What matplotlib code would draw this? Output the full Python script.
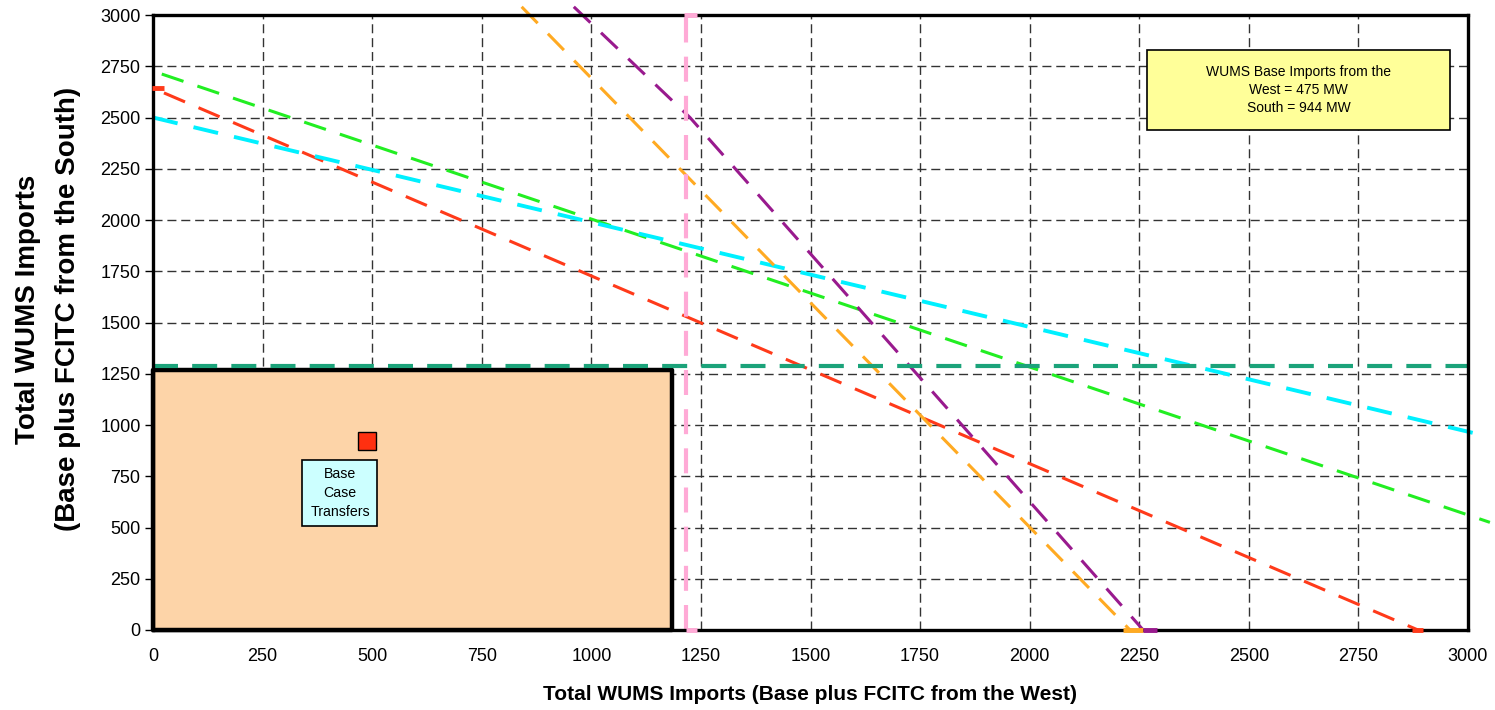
import matplotlib
matplotlib.use("Agg")
import matplotlib.pyplot as plt
from matplotlib.patches import Rectangle

plt.rcParams['font.family'] = ['Liberation Sans', 'DejaVu Sans']

# ---- data ----
ticks = [0, 250, 500, 750, 1000, 1250, 1500, 1750, 2000, 2250, 2500, 2750, 3000]
tick_labels = [str(t) for t in ticks]

red_x = [25, 2886]
red_y = [2620, 0]
green_x = [20, 3050]
green_y = [2712, 525]
cyan_x = [0, 3030]
cyan_y = [2500, 952]
orange_x = [841, 2229]
orange_y = [3040, 0]
purple_x = [960, 1225, 2259]
purple_y = [3040, 2500, 0]

west_limit = 1215          # pink vertical
south_limit = 1290         # teal horizontal
region_w = 1185            # base-case feasible region
region_h = 1270
base_x = [488]
base_y = [922]

# end markers (x0, x1, y)
red_marks = [(-3, 25, 2645), (2872, 2898, 0)]
orange_marks = [(2213, 2259, 0)]
purple_marks = [(2259, 2291, 0)]
pink_marks = [(1212, 1240, 3000), (1216, 1242, 0)]

note_text = "WUMS Base Imports from the\nWest = 475 MW\nSouth = 944 MW"
base_text = "Base\nCase\nTransfers"

# ---- figure ----
fig = plt.figure(figsize=(14.95, 7.1), dpi=100)
ax = fig.add_axes([153/1495, 1-630/710, (1468-153)/1495, 615/710])
ax.set_xlim(0, 3000)
ax.set_ylim(0, 3000)
ax.set_xticks(ticks)
ax.set_xticklabels(tick_labels)
ax.set_yticks(ticks)
ax.set_yticklabels(tick_labels)
ax.tick_params(axis='x', length=0, pad=13, labelsize=13)
ax.tick_params(axis='y', length=6, width=1, pad=3, labelsize=13, direction='out')

for t in ticks[1:-1]:
    ax.axvline(t, color='#333333', lw=1.0, dashes=(6.5, 3.5), zorder=1)
    ax.axhline(t, color='#333333', lw=1.0, dashes=(6.5, 3.5), zorder=1)

for s in ax.spines.values():
    s.set_linewidth(2.4)
    s.set_zorder(6)

# feasible region
ax.add_patch(Rectangle((0, 0), region_w, region_h, facecolor='#FDD4A8',
                       edgecolor='black', lw=3.2, zorder=3, clip_on=False,
                       joinstyle='round'))

dash = (7.5, 4.8)
lw = 2.2
ax.plot(red_x, red_y, color='#FF3A1A', lw=lw, dashes=dash, zorder=4, clip_on=False)
ax.plot(green_x, green_y, color='#22EE22', lw=lw, dashes=dash, zorder=4, clip_on=False)
ax.plot(cyan_x, cyan_y, color='#00F0FF', lw=lw + 0.6, dashes=(6.5, 4.2), zorder=4, clip_on=False)
ax.plot(orange_x, orange_y, color='#FFAA22', lw=lw, dashes=dash, zorder=4, clip_on=False)
ax.plot(purple_x, purple_y, color='#991A8E', lw=lw, dashes=dash, zorder=4, clip_on=False)

ax.plot([0, 3000], [south_limit, south_limit], color='#1BA37A', lw=3.0,
        dashes=(6, 3.4), zorder=4, clip_on=False)
ax.plot([west_limit, west_limit], [0, 3000], color='#FFAAD6', lw=3.0,
        dashes=(6, 3.4), zorder=4, clip_on=False)

for x0, x1, y in red_marks:
    ax.plot([x0, x1], [y, y], color='#FF3A1A', lw=3.5, zorder=7, clip_on=False, solid_capstyle='butt')
for x0, x1, y in orange_marks:
    ax.plot([x0, x1], [y, y], color='#FFAA22', lw=3.5, zorder=7, clip_on=False, solid_capstyle='butt')
for x0, x1, y in purple_marks:
    ax.plot([x0, x1], [y, y], color='#991A8E', lw=3.5, zorder=7, clip_on=False, solid_capstyle='butt')
for x0, x1, y in pink_marks:
    ax.plot([x0, x1], [y, y], color='#FFAAD6', lw=3.5, zorder=7, clip_on=False, solid_capstyle='butt')

# base case point
ax.plot(base_x, base_y, marker='s', markersize=13.5, markerfacecolor='#FF3010',
        markeredgecolor='black', markeredgewidth=1.0, linestyle='none', zorder=8)

# base case label box
ax.add_patch(Rectangle((341, 507), 171, 322, facecolor='#CCFFFF',
                       edgecolor='black', lw=1.2, zorder=8))
ax.text(427, 668, base_text, ha='center', va='center', fontsize=10.2,
        linespacing=1.45, zorder=9)

# note box
ax.add_patch(Rectangle((2268, 2439), 692, 390, facecolor='#FFFF99',
                       edgecolor='black', lw=1.2, zorder=8))
ax.text(2614, 2634, note_text, ha='center', va='center', fontsize=10,
        linespacing=1.4, zorder=9)

fig.text(48/1495, 1-309/710, "Total WUMS Imports\n(Base plus FCITC from the South)",
         rotation=90, ha='center', va='center', fontsize=20, fontweight='bold',
         linespacing=1.7)
fig.text(810/1495, 1-695/710, "Total WUMS Imports (Base plus FCITC from the West)",
         ha='center', va='center', fontsize=15, fontweight='bold')

fig.savefig('out.png', dpi=100)
